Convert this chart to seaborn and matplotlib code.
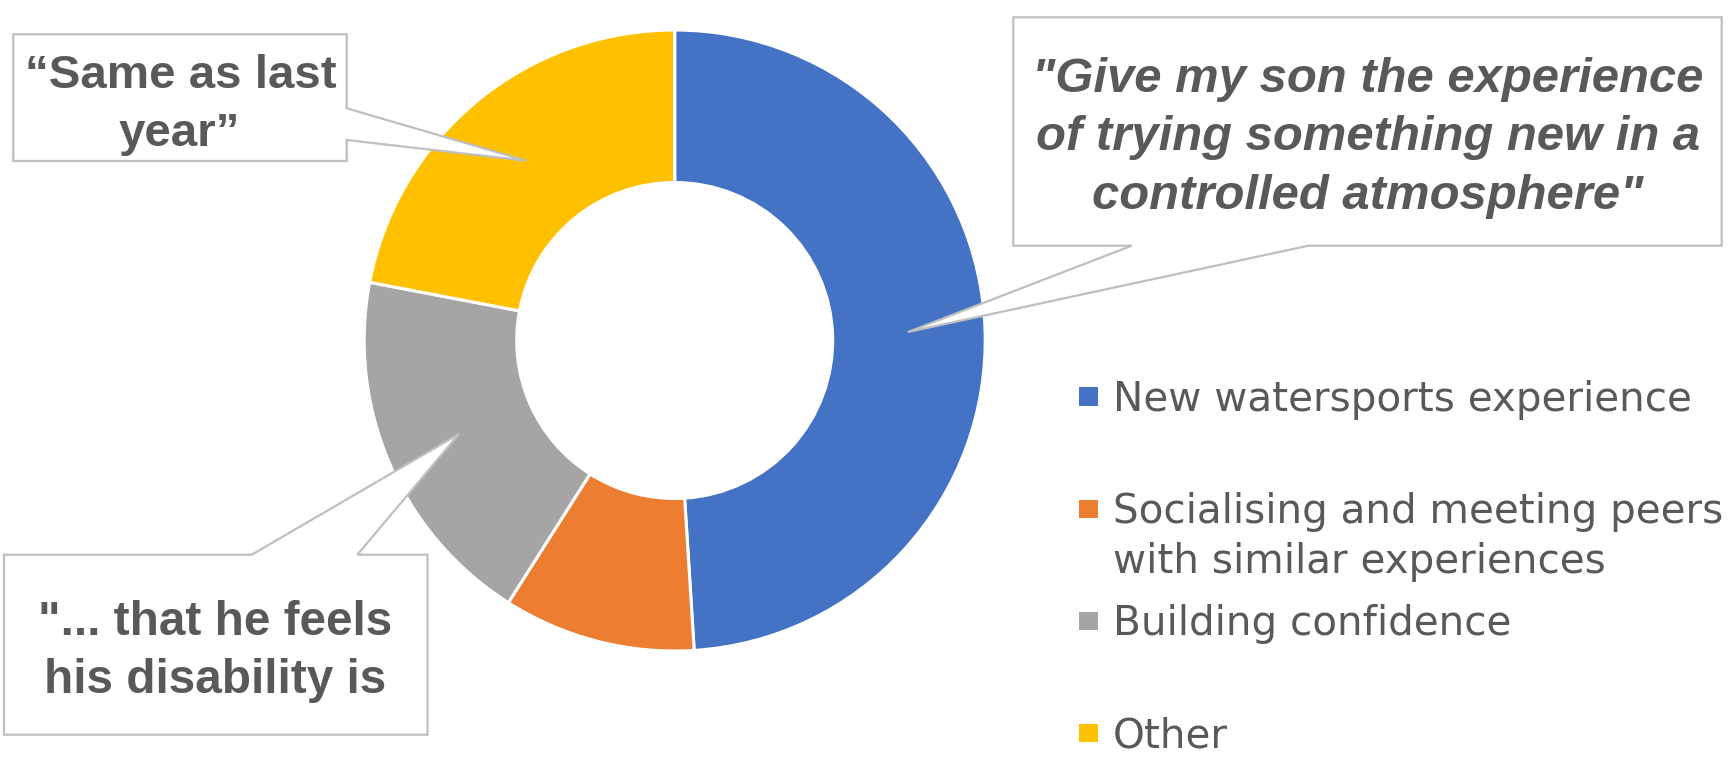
import matplotlib
matplotlib.use("Agg")
import matplotlib.pyplot as plt
from matplotlib.patches import Polygon, Rectangle
import seaborn as sns

# ---------------- data ----------------
categories = ["New watersports experience",
              "Socialising and meeting peers\nwith similar experiences",
              "Building confidence",
              "Other"]
values = [49, 10, 19, 22]
colors_hex = ["#4472C4", "#ED7D31", "#A5A5A5", "#FFC000"]

quote_other = ["\u201cSame as last", "year\u201d"]
quote_new = ["\"Give my son the experience", "of trying something new in a", "controlled atmosphere\""]
quote_conf = ["\"... that he feels", "his disability is"]

# ---------------- style ----------------
sns.set_theme(style="white")
palette = sns.color_palette(colors_hex)
TEXT = "#595959"
EDGE = "#BFBFBF"
W, H = 1730, 758

fig = plt.figure(figsize=(W / 100, H / 100), dpi=100)
ax = fig.add_axes([0, 0, 1, 1])

# donut (pixel coordinates, y downward)
cx, cy, R, r = 674.7, 340.5, 310.5, 158.0
wedges, _ = ax.pie(values, colors=palette, startangle=-90, counterclock=True,
                   center=(cx, cy), radius=R,
                   wedgeprops=dict(width=R - r, edgecolor="white", linewidth=2.2))
ax.set_aspect("auto")
ax.set_xlim(0, W)
ax.set_ylim(H, 0)
ax.axis("off")

renderer = fig.canvas.get_renderer()


def fitted_size(s, target, **kw):
    t = ax.text(0, 0, s, fontsize=20, **kw)
    w = t.get_window_extent(renderer=renderer).width
    t.remove()
    return 20.0 * target / w


def callout(box, side, bases, tip):
    x0, y0, x1, y1 = box
    if side == "right":
        pts = [(x0, y0), (x1, y0), (x1, bases[0]), tip, (x1, bases[1]), (x1, y1), (x0, y1)]
    elif side == "bottom":
        pts = [(x0, y0), (x1, y0), (x1, y1), (bases[1], y1), tip, (bases[0], y1), (x0, y1)]
    else:  # top
        pts = [(x0, y0), (bases[0], y0), tip, (bases[1], y0), (x1, y0), (x1, y1), (x0, y1)]
    ax.add_patch(Polygon(pts, closed=True, facecolor="white", edgecolor=EDGE,
                         linewidth=1.6, zorder=3, joinstyle="miter"))


FAM = "Liberation Sans"

# "Other" callout
callout((13.3, 34.3, 346.7, 161.0), "right", (108.3, 140.0), (526, 160.7))
fs = fitted_size(quote_other[0], 311, family=FAM, weight="bold")
for line, yb, xc in zip(quote_other, [88.3, 146.0], [181, 179.5]):
    ax.text(xc, yb, line, ha="center", va="baseline", fontsize=fs, family=FAM,
            weight="bold", color=TEXT, zorder=4)

# "New watersports" callout
callout((1013.3, 17.3, 1721.7, 245.7), "bottom", (1131.7, 1308.3), (908, 332))
fs = fitted_size(quote_new[0], 671, family=FAM, weight="bold", style="italic")
for line, yb in zip(quote_new, [91.7, 150.0, 209.0]):
    ax.text(1368, yb, line, ha="center", va="baseline", fontsize=fs, family=FAM,
            weight="bold", style="italic", color=TEXT, zorder=4)

# "Building confidence" callout
callout((4.0, 554.7, 427.5, 734.7), "top", (251.7, 357.3), (459, 434))
fs = fitted_size(quote_conf[0], 354, family=FAM, weight="bold")
for line, yb in zip(quote_conf, [634.7, 693.0]):
    ax.text(215, yb, line, ha="center", va="baseline", fontsize=fs, family=FAM,
            weight="bold", color=TEXT, zorder=4)

# legend
LFAM = "DejaVu Sans"
lx = 1112.7
lfs = min(fitted_size(categories[0], 588, family=LFAM),
          fitted_size(categories[1].split("\n")[0], W - lx - 6, family=LFAM))
square_centers = [396.5, 508.8, 621.0, 733.0]
baselines = [410.7, 523.0, 634.7, 747.3]
for col, lab, yc, yb in zip(palette, categories, square_centers, baselines):
    ax.add_patch(Rectangle((1079.3, yc - 9.2), 18.4, 18.4, facecolor=col,
                           edgecolor="none", zorder=3))
    lines = lab.split("\n")
    for i, ln in enumerate(lines):
        ax.text(lx, yb + i * 50.0, ln, ha="left", va="baseline", fontsize=lfs,
                family=LFAM, color=TEXT, zorder=4)

fig.savefig("out.png", dpi=100, facecolor="white")
